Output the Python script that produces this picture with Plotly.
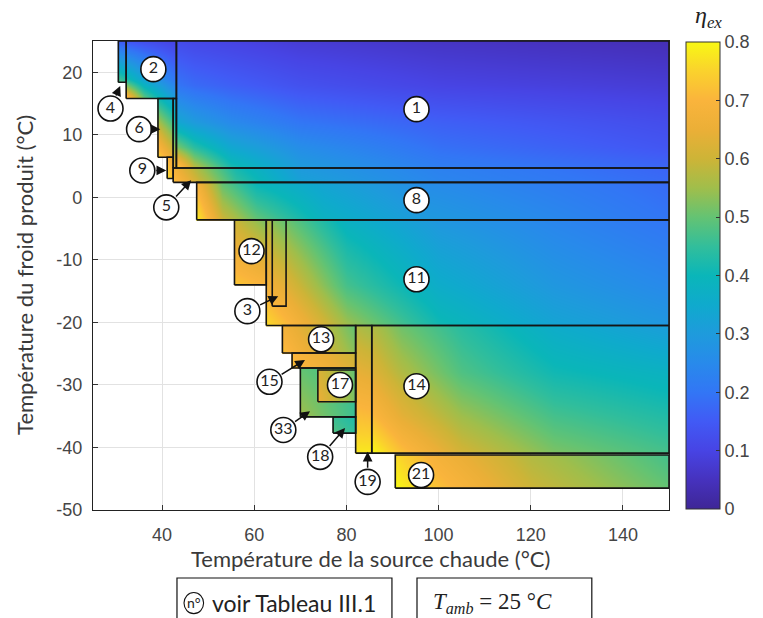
import plotly.graph_objects as go

# ---------------- data ----------------
# regions (drawing order), hot-source temperature samples, cold temperature samples, eta at samples
region_ids = ["5", "5", "1", "9", "6", "2", "4", "8", "11", "12", "3", "14", "19",
              "13", "15", "33", "17", "18", "21"]
region_t_hot = [
    [42.4, 48, 56, 70, 100, 150],
    [42.4, 43.1],
    [43.1, 47, 55, 70, 100, 150],
    [41.1, 42.4],
    [39.1, 42.4],
    [32.2, 36, 43.1],
    [30.5, 32.2],
    [47.5, 53, 60.5, 75, 96, 150],
    [62.6, 68, 80, 100, 125, 150],
    [55.7, 62.6],
    [63.9, 66.9],
    [85.5, 92, 105, 125, 150],
    [82.0, 85.5],
    [66.1, 82.0],
    [68.2, 82.0],
    [70.0, 82.0],
    [73.8, 82.0],
    [77.1, 82.0],
    [90.6, 100, 120, 150],
]
region_t_cold = [
    [2.4, 4.7],
    [4.7, 10, 15.8],
    [4.7, 8, 12, 18, 25],
    [3.0, 6.4],
    [6.4, 11, 15.8],
    [15.8, 19, 25],
    [18.4, 25],
    [-3.6, 2.4],
    [-20.5, -14, -8, -3.6],
    [-14.0, -3.6],
    [-17.4, -3.6],
    [-40.9, -35, -28, -20.5],
    [-40.9, -20.5],
    [-24.9, -20.5],
    [-27.3, -24.9],
    [-35.1, -27.3],
    [-32.7, -27.6],
    [-37.7, -35.1],
    [-46.5, -41.2],
]
region_eta = [
    [[0.72, 0.60, 0.45, 0.32, 0.24, 0.18],
     [0.68, 0.56, 0.42, 0.30, 0.23, 0.17]],
    [[0.66, 0.64], [0.48, 0.46], [0.33, 0.32]],
    [[0.75, 0.58, 0.42, 0.30, 0.22, 0.17],
     [0.52, 0.44, 0.34, 0.26, 0.19, 0.14],
     [0.34, 0.30, 0.25, 0.20, 0.16, 0.12],
     [0.20, 0.18, 0.16, 0.13, 0.10, 0.08],
     [0.12, 0.11, 0.10, 0.08, 0.06, 0.04]],
    [[0.76, 0.72], [0.70, 0.66]],
    [[0.74, 0.64], [0.60, 0.50], [0.42, 0.35]],
    [[0.72, 0.50, 0.30], [0.42, 0.33, 0.20], [0.15, 0.13, 0.10]],
    [[0.48, 0.45], [0.16, 0.15]],
    [[0.78, 0.60, 0.50, 0.38, 0.30, 0.20],
     [0.68, 0.50, 0.40, 0.33, 0.26, 0.18]],
    [[0.76, 0.70, 0.55, 0.41, 0.33, 0.29],
     [0.68, 0.62, 0.47, 0.36, 0.29, 0.25],
     [0.62, 0.55, 0.42, 0.32, 0.26, 0.22],
     [0.57, 0.50, 0.38, 0.29, 0.24, 0.20]],
    [[0.73, 0.70], [0.60, 0.52]],
    [[0.70, 0.68], [0.53, 0.50]],
    [[0.80, 0.72, 0.61, 0.52, 0.47],
     [0.71, 0.64, 0.55, 0.47, 0.43],
     [0.63, 0.57, 0.48, 0.41, 0.38],
     [0.57, 0.51, 0.44, 0.36, 0.31]],
    [[0.78, 0.78], [0.57, 0.55]],
    [[0.72, 0.53], [0.68, 0.50]],
    [[0.72, 0.62], [0.70, 0.60]],
    [[0.55, 0.46], [0.50, 0.45]],
    [[0.65, 0.52], [0.62, 0.50]],
    [[0.48, 0.45], [0.46, 0.43]],
    [[0.80, 0.72, 0.60, 0.50], [0.76, 0.68, 0.57, 0.47]],
]

label_ids = ["1", "2", "4", "6", "9", "5", "8", "12", "3", "11", "13", "15", "17",
             "33", "18", "14", "19", "21"]
label_t_hot = [95.2, 38.1, 28.8, 35.0, 35.7, 40.9, 95.2, 59.4, 58.5, 95.2, 74.5,
               63.3, 78.6, 66.3, 74.3, 95.2, 84.6, 96.2]
label_t_cold = [14.1, 20.5, 14.2, 10.9, 4.3, -1.6, -0.45, -8.6, -18.2, -13.1, -22.7,
                -29.5, -30.0, -37.2, -41.5, -30.2, -45.5, -44.4]
arrow_t_hot = [None, None, 30.9, 39.6, 40.9, 46.3, None, None, 65.2, None, None,
               71.0, None, 72.1, 79.7, None, 84.6, None]
arrow_t_cold = [None, None, 17.8, 10.9, 4.3, 2.75, None, None, -15.8, None, None,
                -26.0, None, -34.2, -36.9, None, -40.7, None]

x_ticks = [40, 60, 80, 100, 120, 140]
y_ticks = [-50, -40, -30, -20, -10, 0, 10, 20]
cbar_ticks = [0, 0.1, 0.2, 0.3, 0.4, 0.5, 0.6, 0.7, 0.8]

colorscale = [
    [0.0, "rgb(62,38,150)"], [0.0625, "rgb(70,50,190)"], [0.125, "rgb(71,68,228)"],
    [0.1875, "rgb(65,90,245)"], [0.25, "rgb(50,118,245)"], [0.3125, "rgb(40,138,235)"],
    [0.375, "rgb(30,155,220)"], [0.4375, "rgb(15,170,205)"], [0.5, "rgb(10,182,185)"],
    [0.5625, "rgb(50,190,155)"], [0.625, "rgb(100,195,115)"], [0.6875, "rgb(160,190,75)"],
    [0.75, "rgb(205,180,55)"], [0.8125, "rgb(235,175,55)"], [0.875, "rgb(250,180,60)"],
    [0.9375, "rgb(250,210,45)"], [1.0, "rgb(248,248,20)"],
]


def padded(v, eps):
    return [v[0], v[0] + eps] + list(v[1:-1]) + [v[-1] - eps, v[-1]]


def pad_list(r):
    return [r[0], r[0]] + list(r[1:-1]) + [r[-1], r[-1]]


fig = go.Figure()

for i in range(len(region_ids)):
    xs = padded(region_t_hot[i], 0.2)
    ys = padded(region_t_cold[i], 0.16)
    z = [pad_list(row) for row in pad_list(region_eta[i])]
    fig.add_trace(go.Heatmap(x=xs, y=ys, z=z, coloraxis="coloraxis", zsmooth="best",
                             hoverinfo="skip"))

ox, oy = [], []
for i in range(len(region_ids)):
    x0, x1 = region_t_hot[i][0], region_t_hot[i][-1]
    y0, y1 = region_t_cold[i][0], region_t_cold[i][-1]
    ox += [x0, x1, x1, x0, x0, None]
    oy += [y0, y0, y1, y1, y0, None]
fig.add_trace(go.Scatter(x=ox, y=oy, mode="lines", line=dict(color="#151515", width=1.6),
                         hoverinfo="skip", cliponaxis=True))

fig.add_trace(go.Scatter(
    x=label_t_hot, y=label_t_cold, mode="markers+text", text=label_ids,
    textposition="middle center",
    marker=dict(size=25, color="white", line=dict(color="#111", width=1.6)),
    textfont=dict(family="Lato", size=16, color="#222"), hoverinfo="skip"))

annotations = []
for i in range(len(label_ids)):
    if arrow_t_hot[i] is None:
        continue
    annotations.append(dict(
        x=arrow_t_hot[i], y=arrow_t_cold[i], ax=label_t_hot[i], ay=label_t_cold[i],
        xref="x", yref="y", axref="x", ayref="y", text="", showarrow=True,
        arrowhead=2, arrowsize=1.3, arrowwidth=1.5, arrowcolor="#111",
        startstandoff=12.5, standoff=0))

title_font = dict(family="Lato", size=22, color="#3a3a3a")
annotations += [
    dict(text="Température de la source chaude (°C)", x=0.4826, y=-0.104, xref="paper",
         yref="paper", showarrow=False, font=title_font, xanchor="center", yanchor="middle"),
    dict(text="Température du froid produit (°C)", x=-0.12, y=0.501, xref="paper",
         yref="paper", showarrow=False, font=title_font, textangle=-90,
         xanchor="center", yanchor="middle"),
    dict(text="<i>η</i><sub><i>ex</i></sub>", x=1.069, y=1.052, xref="paper", yref="paper",
         showarrow=False, font=dict(family="Liberation Serif", size=24, color="#222"),
         xanchor="center", yanchor="middle"),
    dict(text="n°", x=0.1745, y=-0.198, xref="paper", yref="paper", showarrow=False,
         font=dict(family="Lato", size=14, color="#222"), xanchor="center", yanchor="middle"),
    dict(text="voir Tableau III.1", x=0.203, y=-0.198, xref="paper", yref="paper",
         showarrow=False, font=dict(family="Lato", size=23, color="#222"),
         xanchor="left", yanchor="middle"),
    dict(text="<i>T</i><sub><i>amb</i></sub> = 25 °<i>C</i>", x=0.693, y=-0.198,
         xref="paper", yref="paper", showarrow=False,
         font=dict(family="Liberation Serif", size=23, color="#222"),
         xanchor="center", yanchor="middle"),
]

shapes = [
    dict(type="rect", xref="paper", yref="paper", x0=0.1458, x1=0.519, y0=-0.26, y1=-0.145,
         line=dict(color="#111", width=1.2), fillcolor="rgba(0,0,0,0)"),
    dict(type="rect", xref="paper", yref="paper", x0=0.5625, x1=0.866, y0=-0.26, y1=-0.145,
         line=dict(color="#111", width=1.2), fillcolor="rgba(0,0,0,0)"),
    dict(type="circle", xref="paper", yref="paper", x0=0.158, x1=0.192, y0=-0.221, y1=-0.176,
         line=dict(color="#111", width=1.1), fillcolor="rgba(0,0,0,0)"),
]

tick_font = dict(family="Liberation Sans", size=18, color="#454545")
fig.update_layout(
    width=763, height=618,
    margin=dict(l=93, r=94, t=41, b=108, autoexpand=False),
    plot_bgcolor="white", paper_bgcolor="white", showlegend=False,
    annotations=annotations, shapes=shapes,
    coloraxis=dict(
        colorscale=colorscale, cmin=0, cmax=0.8,
        colorbar=dict(x=1.03, xanchor="left", xpad=0, ypad=0, y=0.5, yanchor="middle",
                      len=0.995, lenmode="fraction", thickness=34, thicknessmode="pixels",
                      outlinewidth=1, outlinecolor="#333",
                      tickvals=cbar_ticks, ticktext=[str(v) for v in cbar_ticks],
                      ticks="inside", ticklen=4, tickcolor="#333", tickfont=tick_font)),
    xaxis=dict(range=[25, 150], tickvals=x_ticks, ticktext=[str(v) for v in x_ticks],
               ticks="inside", ticklen=5, tickcolor="#333", showgrid=True,
               gridcolor="#e2e2e2", gridwidth=1, showline=True, linecolor="#222",
               linewidth=1.2, mirror=True, zeroline=False, tickfont=tick_font,
               ticklabelstandoff=8),
    yaxis=dict(range=[-50, 25], tickvals=y_ticks, ticktext=[str(v) for v in y_ticks],
               ticks="inside", ticklen=5, tickcolor="#333", showgrid=True,
               gridcolor="#e2e2e2", gridwidth=1, showline=True, linecolor="#222",
               linewidth=1.2, mirror=True, zeroline=False, tickfont=tick_font,
               ticklabelstandoff=6),
)

fig.write_html("out.html", config={"displayModeBar": False},
               post_script="document.body.style.margin='0px';")
